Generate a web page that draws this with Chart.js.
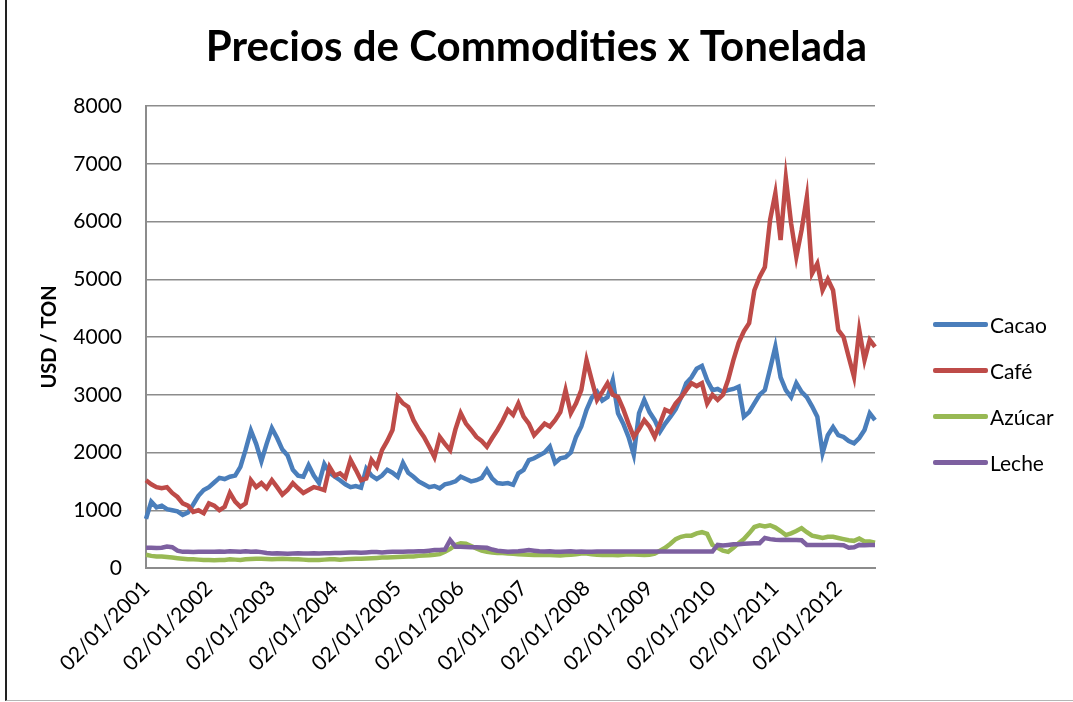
<!DOCTYPE html>
<html>
<head>
<meta charset="utf-8">
<script src="https://cdn.jsdelivr.net/npm/chart.js@4.4.1/dist/chart.umd.min.js"></script>
<style>
  html, body { margin: 0; padding: 0; background: #fff; }
  #wrap { position: relative; width: 1073px; height: 702px; overflow: hidden; }
  #frame { position: absolute; left: 5px; top: 0; width: 1066px; height: 700px;
           border-left: 2px solid #222; border-bottom: 1px solid #b5b5b5; pointer-events: none; }
  .legend { position: absolute; left: 933px; font-family: Lato, "Open Sans", sans-serif; font-size: 21px; color: #000; }
  .legend .item { position: relative; height: 46px; }
  .legend .line { position: absolute; left: 0; top: -3px; width: 55px; height: 5px; border-radius: 2px; }
  .legend .txt { position: absolute; left: 57px; top: -13px; white-space: nowrap; }
</style>
</head>
<body>
<div id="wrap">
  <canvas id="lineChart" width="1073" height="702"></canvas>
  <div id="frame"></div>
  <div class="legend" id="legend" style="top:325px"></div>
</div>
<script>
// years on the category axis (one point per month, Jan 2001 .. Aug 2012)
const years = [2001, 2002, 2003, 2004, 2005, 2006, 2007, 2008, 2009, 2010, 2011, 2012];
const lastMonth2012 = 8;

// USD / TON, monthly readings
const cacao = [
    850, 1150, 1050, 1080, 1020, 1000, 980, 920, 960, 1100, 1250, 1350,
    1400, 1480, 1560, 1540, 1580, 1600, 1750, 2050, 2380, 2150, 1850, 2150,
    2420, 2250, 2050, 1950, 1700, 1600, 1580, 1780, 1600, 1470, 1800, 1650,
    1580, 1520, 1450, 1400, 1420, 1390, 1720, 1600, 1540, 1600, 1700, 1650,
    1580, 1820, 1650, 1580, 1500, 1450, 1400, 1420, 1380, 1450, 1470, 1500,
    1580, 1540, 1500, 1520, 1560, 1700, 1550, 1470, 1460, 1470, 1440, 1640,
    1700, 1870, 1900, 1950, 2000, 2100, 1820, 1900, 1920, 2000, 2270, 2450,
    2740, 2950, 3050, 2900, 2960, 3250, 2680, 2500, 2270, 1960, 2680, 2910,
    2700, 2560, 2360, 2500, 2620, 2750, 2950, 3200, 3300, 3450, 3500, 3250,
    3080, 3100, 3050, 3080, 3100, 3140, 2620, 2700, 2850, 3000, 3080, 3450,
    3830, 3300, 3080, 2960, 3200, 3050, 2960, 2800, 2620, 1990, 2300, 2440,
    2300, 2270, 2200, 2160, 2250, 2390, 2680, 2560
];
const cafe = [
    1520, 1450, 1400, 1380, 1400, 1300, 1230, 1120, 1080, 970, 1000, 950,
    1120, 1080, 1000, 1060, 1300, 1150, 1060, 1120, 1520, 1400, 1470, 1380,
    1520, 1400, 1270, 1350, 1470, 1380, 1300, 1350, 1400, 1380, 1350, 1750,
    1600, 1640, 1560, 1870, 1700, 1520, 1550, 1870, 1750, 2040, 2200, 2390,
    2960, 2850, 2790, 2560, 2400, 2270, 2100, 1920, 2270, 2150, 2040, 2400,
    2680, 2500, 2390, 2270, 2200, 2100, 2250, 2390, 2550, 2740, 2650, 2850,
    2620, 2500, 2300, 2400, 2500, 2450, 2560, 2700, 3080, 2680, 2850, 3080,
    3600, 3250, 2910, 3050, 3200, 3000, 2960, 2750, 2500, 2270, 2400, 2560,
    2450, 2270, 2500, 2740, 2700, 2850, 2950, 3080, 3200, 3150, 3200, 2850,
    3000, 2910, 3000, 3260, 3600, 3900, 4100, 4240, 4810, 5040, 5210, 6030,
    6490, 5680, 6750, 5970, 5390, 5850, 6420, 5100, 5270, 4810, 5000, 4810,
    4120, 4000, 3650, 3310, 4120, 3600, 3950, 3830
];
const azucar = [
    230, 210, 200, 200, 190, 180, 170, 160, 150, 150, 145, 140,
    140, 135, 140, 140, 150, 145, 140, 150, 155, 160, 160, 155,
    150, 155, 160, 155, 150, 150, 145, 140, 140, 140, 145, 150,
    150, 145, 150, 155, 160, 160, 165, 170, 175, 180, 180, 185,
    190, 195, 200, 200, 210, 215, 220, 230, 240, 280, 330, 400,
    430, 420, 380, 340, 300, 280, 270, 260, 260, 250, 245, 240,
    235, 230, 225, 225, 230, 225, 220, 215, 225, 230, 240, 250,
    250, 240, 230, 225, 230, 225, 220, 230, 240, 235, 230, 225,
    230, 250, 300, 350, 420, 500, 540, 560, 560, 600, 620, 590,
    400, 350, 300, 280, 350, 430, 500, 600, 710, 740, 720, 740,
    700, 640, 570, 600, 640, 690, 620, 560, 540, 520, 540, 540,
    520, 500, 480, 470, 510, 460, 460, 440
];
const leche = [
    350, 350, 345, 350, 370, 360, 300, 280, 280, 275, 280, 280,
    280, 280, 285, 280, 290, 285, 280, 290, 280, 285, 275, 260,
    250, 255, 250, 245, 250, 255, 250, 250, 255, 250, 255, 255,
    260, 260, 265, 270, 270, 265, 270, 275, 275, 270, 275, 280,
    280, 280, 285, 285, 290, 290, 300, 310, 310, 320, 485, 370,
    370, 365, 360, 360, 355, 350, 320, 300, 290, 280, 285, 290,
    300, 310, 300, 290, 285, 290, 280, 280, 285, 290, 280, 285,
    280, 280, 285, 285, 285, 285, 285, 285, 285, 285, 285, 285,
    285, 285, 285, 285, 285, 285, 285, 285, 285, 285, 285, 285,
    285, 400, 390, 400, 410, 410, 420, 425, 430, 430, 520, 500,
    490, 485, 490, 485, 485, 480, 400, 400, 400, 400, 400, 400,
    400, 395, 350, 360, 400, 395, 400, 400
];

const seriesNames = ['Cacao', 'Café', 'Azúcar', 'Leche'];
const seriesColors = ['#4a7ebb', '#be4b48', '#98b954', '#7d60a0'];

const labels = [];
years.forEach(y => {
    const n = y === 2012 ? lastMonth2012 : 12;
    for (let m = 1; m <= n; m++) {
        labels.push('02/' + String(m).padStart(2, '0') + '/' + y);
    }
});

const FONT = 'Lato, "Open Sans", sans-serif';
const gridGrey = '#8c8c8c';

// the title is centred on the whole picture, not only left of the legend
const wideTitle = {
    id: 'wideTitle',
    afterLayout(chart) {
        const t = chart.titleBlock;
        if (!t) return;
        t.left = 0;
        t.right = chart.width;
        t.width = chart.width;
    }
};

const ctx = document.getElementById('lineChart').getContext('2d');
const allSeries = [cacao, cafe, azucar, leche];

new Chart(ctx, {
    type: 'line',
    data: {
        labels: labels,
        datasets: allSeries.map((d, i) => ({
            label: seriesNames[i],
            data: d,
            borderColor: seriesColors[i],
            backgroundColor: seriesColors[i],
            borderWidth: 4.5,
            pointRadius: 0,
            tension: 0,
            fill: false,
            order: 4 - i
        }))
    },
    plugins: [wideTitle],
    options: {
        responsive: false,
        animation: false,
        events: [],
        layout: { padding: { left: 0, right: 198, top: 0, bottom: 0 } },
        plugins: {
            legend: { display: false },
            tooltip: { enabled: false },
            title: {
                display: true,
                text: 'Precios de Commodities x Tonelada',
                color: '#000',
                font: { family: FONT, size: 42, weight: 'bold', lineHeight: 1.2 },
                padding: { top: 22, bottom: 33.6 }
            }
        },
        scales: {
            x: {
                type: 'category',
                offset: false,
                grid: { display: false, drawTicks: false },
                border: { display: true, color: gridGrey, width: 2 },
                afterFit: s => { s.height = 134; },
                ticks: {
                    autoSkip: false,
                    minRotation: 45,
                    maxRotation: 45,
                    padding: 8,
                    color: '#000',
                    font: { family: FONT, size: 21 },
                    callback: function (val, idx) {
                        return idx % 12 === 0 ? this.getLabelForValue(val) : '';
                    }
                }
            },
            y: {
                min: 0,
                max: 8000,
                grid: { color: gridGrey, lineWidth: 1.5, drawTicks: false },
                border: { display: true, color: gridGrey, width: 2 },
                afterFit: s => { s.width = 146; },
                ticks: {
                    stepSize: 1000,
                    padding: 24,
                    color: '#000',
                    font: { family: FONT, size: 21 },
                    callback: v => String(v)
                },
                title: {
                    display: true,
                    text: 'USD / TON',
                    color: '#000',
                    font: { family: FONT, size: 20, weight: 'bold', lineHeight: 1.2 },
                    padding: { top: 38, bottom: 0 }
                }
            }
        }
    }
});

const legendEl = document.getElementById('legend');
seriesNames.forEach((name, i) => {
    const item = document.createElement('div');
    item.className = 'item';
    item.innerHTML = '<div class="line" style="background:' + seriesColors[i] + '"></div><div class="txt">' + name + '</div>';
    legendEl.appendChild(item);
});
</script>
</body>
</html>
